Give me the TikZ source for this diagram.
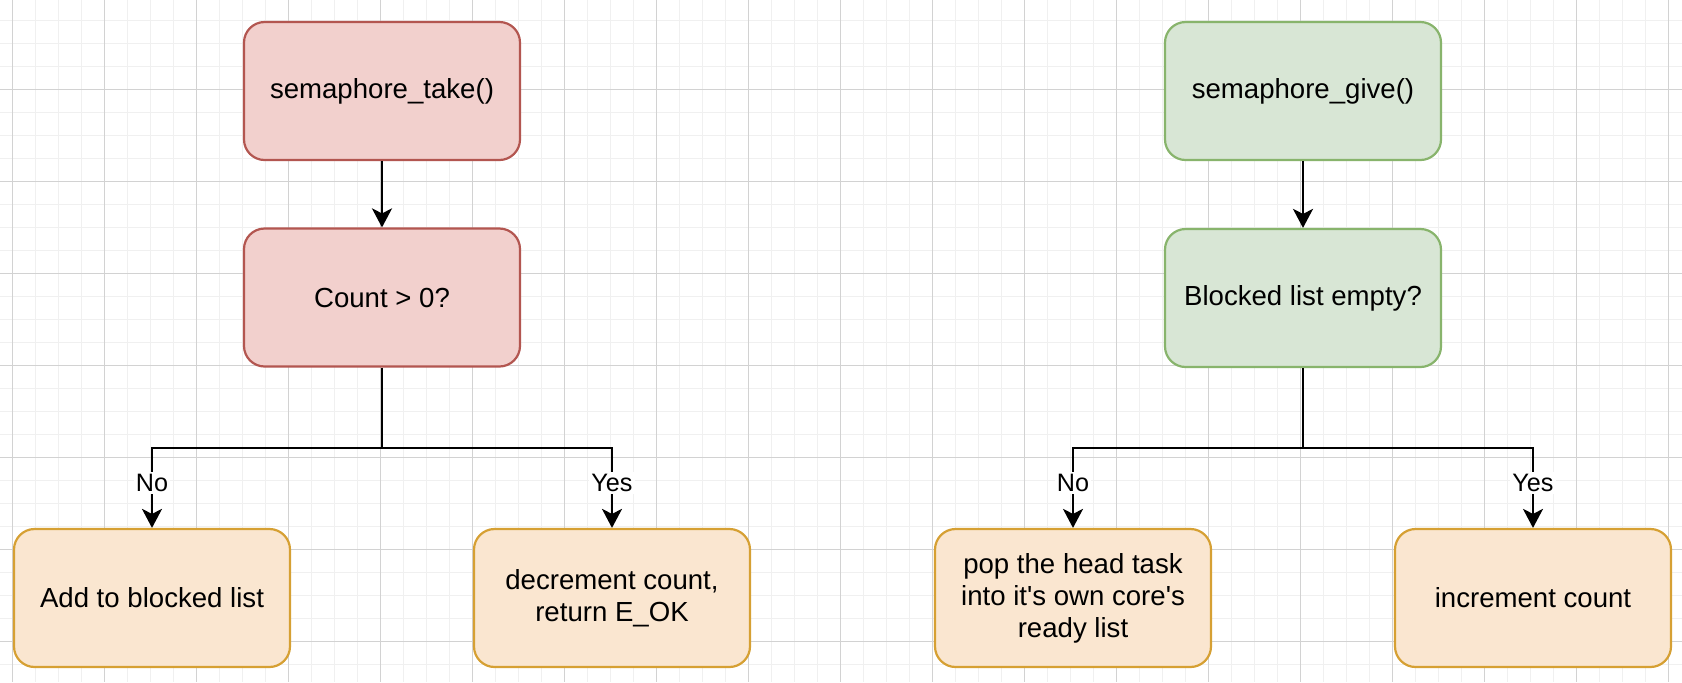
\documentclass[tikz,border=0pt]{standalone}
\usepackage{fontspec}
\setmainfont{Liberation Sans}
\usetikzlibrary{arrows.meta}
\definecolor{redfill}{HTML}{F2D0CD}
\definecolor{redline}{HTML}{B35650}
\definecolor{greenfill}{HTML}{D8E6D5}
\definecolor{greenline}{HTML}{88B46C}
\definecolor{orangefill}{HTML}{FAE6D0}
\definecolor{orangeline}{HTML}{D6A033}
\definecolor{gridminor}{HTML}{F0F0F0}
\definecolor{gridmajor}{HTML}{D2D2D2}
\tikzset{
  box/.style={rectangle, rounded corners=10.3pt, line width=1.1pt, minimum width=138pt, minimum height=69pt, inner sep=0pt, align=center, font=\fontsize{13.8pt}{16pt}\selectfont},
  redbox/.style={box, fill=redfill, draw=redline},
  greenbox/.style={box, fill=greenfill, draw=greenline},
  orangebox/.style={box, fill=orangefill, draw=orangeline},
  conn/.style={line width=1.1pt, draw=black},
  arr/.style={conn, -{Stealth[length=9.5pt, width=10pt, inset=2.5pt]}},
  lbl/.style={fill=white, inner sep=1pt, font=\fontsize{12.6pt}{14pt}\selectfont},
  gridminorline/.style={draw=gridminor, line width=0.5pt},
  gridmajorline/.style={draw=gridmajor, line width=0.5pt}
}
\begin{document}
\begin{tikzpicture}[x=0.5pt, y=-0.5pt]
\useasboundingbox (0,0) rectangle (1682,682);
\fill[white] (0,0) rectangle (1682,682);
\foreach \x in {12,35,...,1682} \draw[gridminorline] (\x,0) -- (\x,682);
\foreach \y in {20,43,...,682} \draw[gridminorline] (0,\y) -- (1682,\y);
\foreach \x in {12,104,...,1682} \draw[gridmajorline] (\x,0) -- (\x,682);
\foreach \y in {89,181,...,682} \draw[gridmajorline] (0,\y) -- (1682,\y);

\node[redbox] (take) at (382,91) {semaphore\_take()};
\node[redbox] (count) at (382,297.5) {Count > 0?};
\node[orangebox] (add) at (152,598) {Add to blocked list};
\node[orangebox] (decr) at (612,598) {decrement count,\\return E\_OK};
\node[greenbox] (give) at (1303,91) {semaphore\_give()};
\node[greenbox] (blocked) at (1303,298) {Blocked list empty?};
\node[orangebox] (pop) at (1073,598) {pop the head task\\into it\textquotesingle s own core\textquotesingle s\\ready list};
\node[orangebox] (inc) at (1533,598) {increment count};

\draw[arr] (take) -- (count);
\coordinate (jt) at (382,448);
\draw[arr] (count.south) -- (jt) -| node[lbl,pos=0.72]{No} (add.north);
\draw[arr] (jt) -| node[lbl,pos=0.72]{Yes} (decr.north);

\draw[arr] (give) -- (blocked);
\coordinate (jg) at (1303,448);
\draw[arr] (blocked.south) -- (jg) -| node[lbl,pos=0.72]{No} (pop.north);
\draw[arr] (jg) -| node[lbl,pos=0.72]{Yes} (inc.north);
\end{tikzpicture}
\end{document}
